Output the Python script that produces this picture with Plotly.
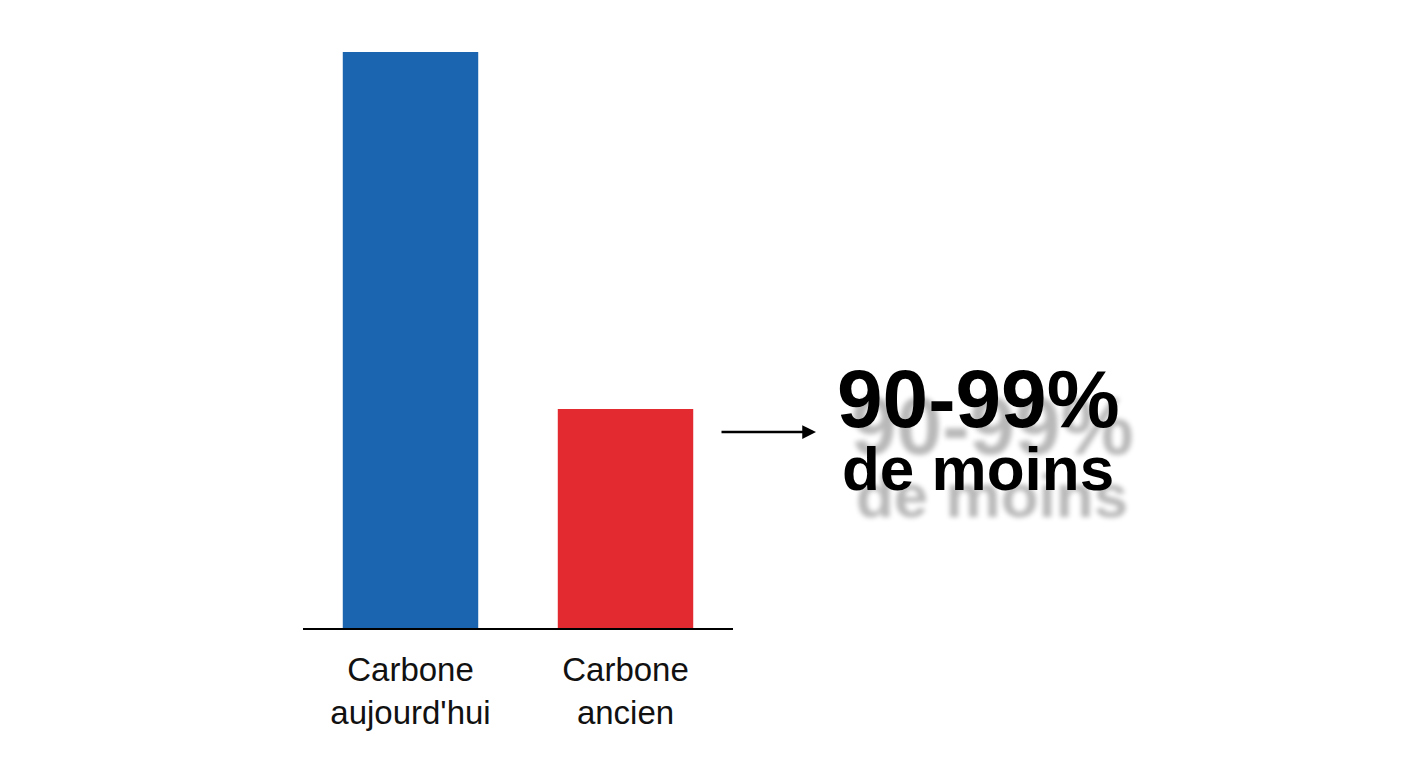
import plotly.graph_objects as go

categories = ["Carbone<br>aujourd'hui", "Carbone<br>ancien"]
values = [100, 38]
bar_colors = ["#1B64AF", "#E22A30"]
headline = "90-99%"
subline = "de moins"

W, H = 1408, 768
OFF = 8  # page body margin
L, R, T, B = 303 - OFF, W + OFF - 733, 52 - OFF, H + OFF - 628
pw, ph = W - L - R, H - T - B

def px_to_paper(x, y):
    return (x - OFF - L) / pw, (H - B - (y - OFF)) / ph

fig = go.Figure()
fig.add_trace(go.Bar(x=categories, y=values, marker=dict(color=bar_colors, line=dict(width=0)),
                     width=0.63, hoverinfo="skip"))

annotations = []
shadow = "14px 27px 5px rgba(0,0,0,0.28)"
for txt, cx, cy, size in [(headline, 978, 398, 82), (subline, 978, 469, 62)]:
    px, py = px_to_paper(cx, cy)
    annotations.append(dict(text=txt, x=px, y=py, xref="paper", yref="paper", showarrow=False,
                            xanchor="center", yanchor="middle",
                            font=dict(family="Liberation Sans", size=size, color="#000000",
                                      weight="bold", shadow=shadow)))
# arrow
hx, hy = px_to_paper(816, 432)
annotations.append(dict(x=hx, y=hy, xref="paper", yref="paper", ax=-96, ay=0, text="",
                        showarrow=True, arrowhead=2, arrowsize=1.1, arrowwidth=2.5, arrowcolor="#000000"))

fig.update_layout(
    width=W, height=H,
    margin=dict(l=L, r=R, t=T, b=B),
    paper_bgcolor="white", plot_bgcolor="white",
    showlegend=False,
    annotations=annotations,
    xaxis=dict(showgrid=False, zeroline=False, showline=True, linecolor="#000000", linewidth=1.5,
               ticks="outside", ticklen=12, tickcolor="rgba(0,0,0,0)",
               tickfont=dict(family="Liberation Sans", size=33, color="#111111"), range=[-0.5, 1.5]),
    yaxis=dict(range=[0, 100], visible=False, showgrid=False, zeroline=False),
)
fig.update_traces(cliponaxis=False)
fig.write_html("out.html")
